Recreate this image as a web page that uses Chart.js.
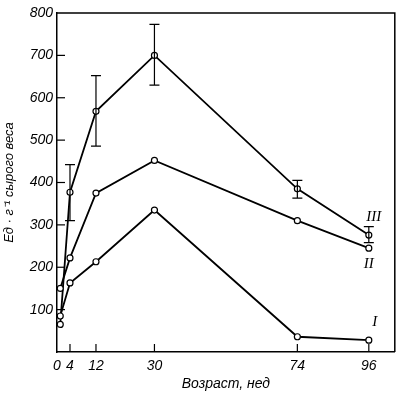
<!DOCTYPE html>
<html>
<head>
<meta charset="utf-8">
<script src="https://cdn.jsdelivr.net/npm/chart.js@4.4.1/dist/chart.umd.min.js"></script>
<style>
  html, body { margin: 0; padding: 0; background: #fff; }
  #wrap { width: 400px; height: 395px; }
</style>
</head>
<body>
<div id="wrap"><canvas id="chart" width="400" height="395"></canvas></div>
<script>
// Возраст (недели) и активность для трёх кривых
const weeks = [1, 4, 12, 30, 74, 96];
const seriesI = [85, 163, 213, 335, 36, 28];
const seriesII = [150, 222, 375, 452, 310, 245];
const seriesIII = [65, 377, 568, 700, 385, 276];
// разброс для кривой III (нижняя и верхняя граница)
const errIIILow = [null, 310, 486, 630, 363, 258];
const errIIIHigh = [null, 442, 652, 773, 405, 296];

const xTickValues = [0, 4, 12, 30, 74, 96];
const yTickValues = [100, 200, 300, 400, 500, 600, 700, 800];
const seriesNames = ['I', 'II', 'III'];

const toPoints = (vals) => weeks.map((w, i) => ({ x: w, y: vals[i] }));

const FONT = "'Liberation Sans', Arial, sans-serif";

// рамка, внутренние засечки, планки погрешностей и римские цифры
const extrasPlugin = {
  id: 'extras',
  afterDatasetsDraw(chart) {
    const ctx = chart.ctx;
    const a = chart.chartArea;
    const xs = chart.scales.x, ys = chart.scales.y;
    ctx.save();
    ctx.strokeStyle = '#000';
    ctx.lineWidth = 1.5;
    // верх и правая сторона рамки
    ctx.beginPath();
    ctx.moveTo(a.left, a.top);
    ctx.lineTo(a.right, a.top);
    ctx.lineTo(a.right, a.bottom);
    ctx.stroke();

    // засечки внутрь
    ctx.lineWidth = 1.2;
    yTickValues.forEach(v => {
      if (v >= 800) return;
      const py = ys.getPixelForValue(v);
      ctx.beginPath();
      ctx.moveTo(a.left, py);
      ctx.lineTo(a.left + 8, py);
      ctx.stroke();
    });
    xTickValues.forEach(v => {
      if (v === 0) return;
      const px = xs.getPixelForValue(v);
      ctx.beginPath();
      ctx.moveTo(px, a.bottom);
      ctx.lineTo(px, a.bottom - 8);
      ctx.stroke();
    });

    // планки погрешностей
    weeks.forEach((w, i) => {
      if (errIIILow[i] == null) return;
      const px = xs.getPixelForValue(w);
      const lo = ys.getPixelForValue(errIIILow[i]);
      const hi = ys.getPixelForValue(errIIIHigh[i]);
      ctx.beginPath();
      ctx.moveTo(px, lo); ctx.lineTo(px, hi);
      ctx.moveTo(px - 5, lo); ctx.lineTo(px + 5, lo);
      ctx.moveTo(px - 5, hi); ctx.lineTo(px + 5, hi);
      ctx.stroke();
    });

    // подписи кривых
    ctx.fillStyle = '#000';
    ctx.font = "italic 15px 'Liberation Serif', serif";
    ctx.textAlign = 'center';
    ctx.textBaseline = 'middle';
    const last = weeks.length - 1;
    const offsets = { I: [6, -18], II: [0, 16], III: [5, -18] };
    chart.data.datasets.forEach((ds, di) => {
      const pt = chart.getDatasetMeta(di).data[last];
      const off = offsets[seriesNames[di]];
      ctx.fillText(seriesNames[di], pt.x + off[0], pt.y + off[1]);
    });
    ctx.restore();
  }
};

const makeDataset = (vals) => ({
  data: toPoints(vals),
  borderColor: '#000',
  borderWidth: 1.8,
  pointRadius: 3,
  pointBorderWidth: 1.2,
  pointBackgroundColor: '#fff',
  pointBorderColor: '#000',
  tension: 0,
  fill: false
});

new Chart(document.getElementById('chart'), {
  type: 'line',
  data: {
    datasets: [makeDataset(seriesI), makeDataset(seriesII), makeDataset(seriesIII)]
  },
  options: {
    responsive: false,
    animation: false,
    layout: { padding: { top: 13, right: 5, left: 0, bottom: 0 } },
    plugins: {
      legend: { display: false },
      tooltip: { enabled: false }
    },
    scales: {
      x: {
        type: 'linear',
        min: 0,
        max: 104,
        afterBuildTicks: (scale) => { scale.ticks = xTickValues.map(v => ({ value: v })); },
        afterFit: (scale) => { scale.height = 43; },
        grid: { display: false, drawTicks: false },
        border: { display: true, color: '#000', width: 1.5 },
        ticks: {
          color: '#000',
          padding: 6,
          autoSkip: false,
          maxRotation: 0,
          font: { family: FONT, size: 14, style: 'italic' }
        },
        title: {
          display: true,
          text: 'Возраст, нед',
          color: '#000',
          padding: { top: 0, bottom: 2 },
          font: { family: FONT, size: 14, style: 'italic' }
        }
      },
      y: {
        min: 0,
        max: 800,
        afterBuildTicks: (scale) => { scale.ticks = [0].concat(yTickValues).map(v => ({ value: v })); },
        afterFit: (scale) => { scale.width = 57; },
        grid: { display: false, drawTicks: false },
        border: { display: true, color: '#000', width: 1.5 },
        ticks: {
          color: '#000',
          padding: 4,
          font: { family: FONT, size: 14, style: 'italic' },
          callback: (v) => v === 0 ? '' : v
        },
        title: {
          display: true,
          text: 'Ед · г⁻¹ сырого веса',
          color: '#000',
          padding: { top: 2, bottom: 0 },
          font: { family: FONT, size: 13, style: 'italic' }
        }
      }
    }
  },
  plugins: [extrasPlugin]
});
</script>
</body>
</html>
